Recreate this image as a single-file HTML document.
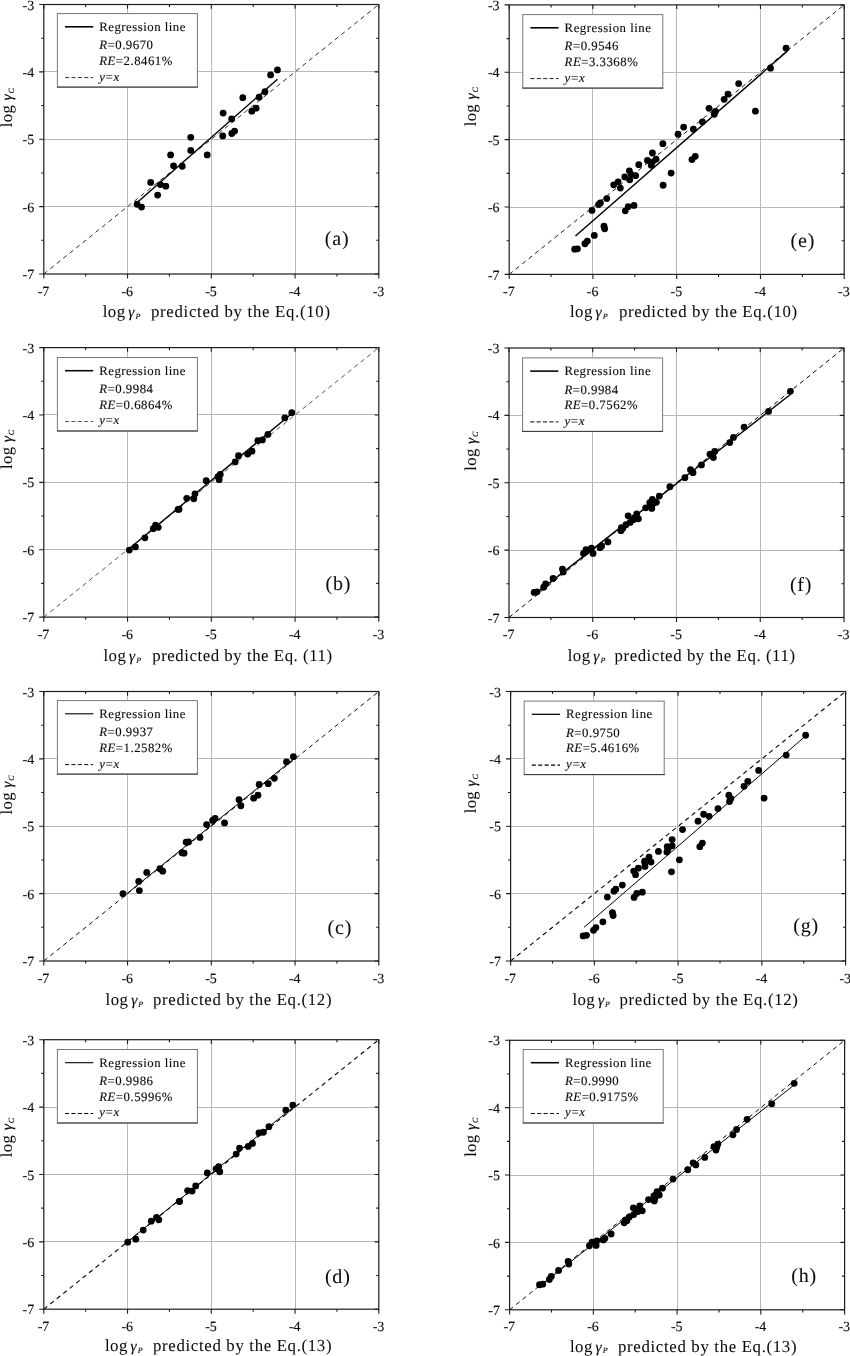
<!DOCTYPE html>
<html lang="en">
<head>
<meta charset="utf-8">
<title>Regression plots</title>
<style>
html,body{margin:0;padding:0;background:#fff;}
body{width:850px;height:1356px;overflow:hidden;}
svg{display:block;}
text{font-family:"Liberation Serif",serif;fill:#0a0a0a;stroke:#0a0a0a;stroke-width:0.12px;text-rendering:geometricPrecision;}
.tk{font-size:14px;}
.lg{font-size:12.8px;letter-spacing:0.5px;}
.it{font-style:italic;}
.pl{font-size:20px;letter-spacing:0.8px;stroke-width:0.04px;}
.al{font-size:16.8px;letter-spacing:0;stroke-width:0.04px;}
.gm{font-size:15.5px;font-style:italic;}
.sb{font-size:8px;font-style:italic;}
</style>
</head>
<body>
<svg width="850" height="1356" viewBox="0 0 850 1356">
<rect width="850" height="1356" fill="#fff"/>
<g>
<line x1="127.5" y1="4.5" x2="127.5" y2="274" stroke="#b8b8b8" stroke-width="1"/>
<line x1="43.8" y1="206.5" x2="378.8" y2="206.5" stroke="#b8b8b8" stroke-width="1"/>
<line x1="211.5" y1="4.5" x2="211.5" y2="274" stroke="#b8b8b8" stroke-width="1"/>
<line x1="43.8" y1="139.5" x2="378.8" y2="139.5" stroke="#b8b8b8" stroke-width="1"/>
<line x1="295.5" y1="4.5" x2="295.5" y2="274" stroke="#b8b8b8" stroke-width="1"/>
<line x1="43.8" y1="71.5" x2="378.8" y2="71.5" stroke="#b8b8b8" stroke-width="1"/>
<line x1="43.8" y1="274" x2="378.8" y2="4.5" stroke="#1a1a1a" stroke-width="0.9" stroke-dasharray="4.5 3.8"/>
<line x1="136.59" y1="202.92" x2="277.46" y2="79.29" stroke="#000" stroke-width="1.45"/>
<circle cx="141.54" cy="207.1" r="3.4"/>
<circle cx="137.1" cy="204.27" r="3.4"/>
<circle cx="157.62" cy="195.1" r="3.4"/>
<circle cx="165.82" cy="186.14" r="3.4"/>
<circle cx="160.38" cy="184.59" r="3.4"/>
<circle cx="150.66" cy="182.44" r="3.4"/>
<circle cx="173.53" cy="165.8" r="3.4"/>
<circle cx="182.24" cy="166.27" r="3.4"/>
<circle cx="170.6" cy="154.95" r="3.4"/>
<circle cx="207.2" cy="154.95" r="3.4"/>
<circle cx="190.78" cy="150.43" r="3.4"/>
<circle cx="190.78" cy="137.36" r="3.4"/>
<circle cx="222.77" cy="135.88" r="3.4"/>
<circle cx="231.82" cy="133.52" r="3.4"/>
<circle cx="234.58" cy="131.03" r="3.4"/>
<circle cx="231.65" cy="118.97" r="3.4"/>
<circle cx="223.11" cy="113.11" r="3.4"/>
<circle cx="251.83" cy="111.15" r="3.4"/>
<circle cx="256.11" cy="108.19" r="3.4"/>
<circle cx="242.79" cy="97.68" r="3.4"/>
<circle cx="259.12" cy="97.21" r="3.4"/>
<circle cx="264.98" cy="91.75" r="3.4"/>
<circle cx="270.6" cy="74.97" r="3.4"/>
<circle cx="277.46" cy="69.92" r="3.4"/>
<path d="M43.8 274v4.6M43.8 4.5v4.2M43.8 274h-4.6M378.8 274h-4.2M85.67 274v2.6M85.67 4.5v2.6M43.8 240.31h-2.6M378.8 240.31h-2.6M127.55 274v4.6M127.55 4.5v4.2M43.8 206.62h-4.6M378.8 206.62h-4.2M169.43 274v2.6M169.43 4.5v2.6M43.8 172.94h-2.6M378.8 172.94h-2.6M211.3 274v4.6M211.3 4.5v4.2M43.8 139.25h-4.6M378.8 139.25h-4.2M253.18 274v2.6M253.18 4.5v2.6M43.8 105.56h-2.6M378.8 105.56h-2.6M295.05 274v4.6M295.05 4.5v4.2M43.8 71.88h-4.6M378.8 71.88h-4.2M336.93 274v2.6M336.93 4.5v2.6M43.8 38.19h-2.6M378.8 38.19h-2.6M378.8 274v4.6M378.8 4.5v4.2M43.8 4.5h-4.6M378.8 4.5h-4.2" stroke="#1c1c1c" stroke-width="1.1" fill="none"/>
<rect x="43.8" y="4.5" width="335" height="269.5" fill="none" stroke="#1c1c1c" stroke-width="1.2"/>
<text class="tk" x="43.5" y="295.5" text-anchor="middle">-7</text>
<text class="tk" x="34.2" y="279.1" text-anchor="end">-7</text>
<text class="tk" x="127.25" y="295.5" text-anchor="middle">-6</text>
<text class="tk" x="34.2" y="211.72" text-anchor="end">-6</text>
<text class="tk" x="211" y="295.5" text-anchor="middle">-5</text>
<text class="tk" x="34.2" y="144.35" text-anchor="end">-5</text>
<text class="tk" x="294.75" y="295.5" text-anchor="middle">-4</text>
<text class="tk" x="34.2" y="76.97" text-anchor="end">-4</text>
<text class="tk" x="378.5" y="295.5" text-anchor="middle">-3</text>
<text class="tk" x="34.2" y="9.6" text-anchor="end">-3</text>
<rect x="57.4" y="13.6" width="140" height="73.5" fill="#fff" stroke="#777" stroke-width="1"/>
<line x1="56.9" y1="87.1" x2="197.9" y2="87.1" stroke="#3a3a3a" stroke-width="1"/>
<line x1="65" y1="26.8" x2="93.2" y2="26.8" stroke="#000" stroke-width="1.55"/>
<line x1="65" y1="77.6" x2="93.2" y2="77.6" stroke="#1a1a1a" stroke-width="0.9" stroke-dasharray="4.1 2.3"/>
<text class="lg" x="99.2" y="30.6">Regression line</text>
<text class="lg" x="99.2" y="49.4"><tspan class="it">R</tspan>=0.9670</text>
<text class="lg" x="99.2" y="64.9"><tspan class="it">RE</tspan>=2.8461%</text>
<text class="lg it" x="99.2" y="80.5" style="letter-spacing:0">y=x</text>
<text class="pl" x="324.8" y="245.3">(a)</text>
<text class="al" x="102.7" y="316.9" style="letter-spacing:0.45px">log</text>
<text class="gm" x="128.3" y="316.9">γ</text>
<text class="sb" x="135.4" y="318.7">P</text>
<text class="al" x="151" y="316.9" textLength="179" lengthAdjust="spacing">predicted by the Eq.(10)</text>
<g transform="translate(11.8 127) rotate(-90)"><text class="al" x="-0.2" y="0" style="letter-spacing:0.3px">log</text><text class="gm" x="26.6" y="0">γ</text><text class="sb" x="33.6" y="2.4">C</text></g>
</g>
<g>
<line x1="127.5" y1="347.6" x2="127.5" y2="617.1" stroke="#b8b8b8" stroke-width="1"/>
<line x1="43.8" y1="549.5" x2="378.8" y2="549.5" stroke="#b8b8b8" stroke-width="1"/>
<line x1="211.5" y1="347.6" x2="211.5" y2="617.1" stroke="#b8b8b8" stroke-width="1"/>
<line x1="43.8" y1="482.5" x2="378.8" y2="482.5" stroke="#b8b8b8" stroke-width="1"/>
<line x1="295.5" y1="347.6" x2="295.5" y2="617.1" stroke="#b8b8b8" stroke-width="1"/>
<line x1="43.8" y1="414.5" x2="378.8" y2="414.5" stroke="#b8b8b8" stroke-width="1"/>
<line x1="43.8" y1="617.1" x2="378.8" y2="347.6" stroke="#444" stroke-width="0.9" stroke-dasharray="4.5 3.8"/>
<line x1="128.81" y1="549.05" x2="292.12" y2="413.29" stroke="#000" stroke-width="1.45"/>
<circle cx="129.31" cy="550.06" r="3.4"/>
<circle cx="135.42" cy="546.96" r="3.4"/>
<circle cx="144.89" cy="537.87" r="3.4"/>
<circle cx="153.26" cy="528.7" r="3.4"/>
<circle cx="155.52" cy="525.07" r="3.4"/>
<circle cx="158.29" cy="527.36" r="3.4"/>
<circle cx="179.06" cy="509.17" r="3.4"/>
<circle cx="178.05" cy="509.43" r="3.4"/>
<circle cx="186.76" cy="498.32" r="3.4"/>
<circle cx="193.8" cy="498.79" r="3.4"/>
<circle cx="194.97" cy="493.87" r="3.4"/>
<circle cx="206.19" cy="480.73" r="3.4"/>
<circle cx="218" cy="476.62" r="3.4"/>
<circle cx="219.17" cy="479.66" r="3.4"/>
<circle cx="220.26" cy="474.47" r="3.4"/>
<circle cx="235.17" cy="461.94" r="3.4"/>
<circle cx="238.52" cy="455.74" r="3.4"/>
<circle cx="247.73" cy="454.05" r="3.4"/>
<circle cx="252" cy="451.16" r="3.4"/>
<circle cx="257.78" cy="440.58" r="3.4"/>
<circle cx="262.39" cy="439.97" r="3.4"/>
<circle cx="267.92" cy="434.38" r="3.4"/>
<circle cx="284.83" cy="417.94" r="3.4"/>
<circle cx="291.78" cy="412.68" r="3.4"/>
<path d="M43.8 617.1v4.6M43.8 347.6v4.2M43.8 617.1h-4.6M378.8 617.1h-4.2M85.67 617.1v2.6M85.67 347.6v2.6M43.8 583.41h-2.6M378.8 583.41h-2.6M127.55 617.1v4.6M127.55 347.6v4.2M43.8 549.73h-4.6M378.8 549.73h-4.2M169.43 617.1v2.6M169.43 347.6v2.6M43.8 516.04h-2.6M378.8 516.04h-2.6M211.3 617.1v4.6M211.3 347.6v4.2M43.8 482.35h-4.6M378.8 482.35h-4.2M253.18 617.1v2.6M253.18 347.6v2.6M43.8 448.66h-2.6M378.8 448.66h-2.6M295.05 617.1v4.6M295.05 347.6v4.2M43.8 414.98h-4.6M378.8 414.98h-4.2M336.93 617.1v2.6M336.93 347.6v2.6M43.8 381.29h-2.6M378.8 381.29h-2.6M378.8 617.1v4.6M378.8 347.6v4.2M43.8 347.6h-4.6M378.8 347.6h-4.2" stroke="#1c1c1c" stroke-width="1.1" fill="none"/>
<rect x="43.8" y="347.6" width="335" height="269.5" fill="none" stroke="#1c1c1c" stroke-width="1.2"/>
<text class="tk" x="43.5" y="638.6" text-anchor="middle">-7</text>
<text class="tk" x="34.2" y="622.2" text-anchor="end">-7</text>
<text class="tk" x="127.25" y="638.6" text-anchor="middle">-6</text>
<text class="tk" x="34.2" y="554.83" text-anchor="end">-6</text>
<text class="tk" x="211" y="638.6" text-anchor="middle">-5</text>
<text class="tk" x="34.2" y="487.45" text-anchor="end">-5</text>
<text class="tk" x="294.75" y="638.6" text-anchor="middle">-4</text>
<text class="tk" x="34.2" y="420.08" text-anchor="end">-4</text>
<text class="tk" x="378.5" y="638.6" text-anchor="middle">-3</text>
<text class="tk" x="34.2" y="352.7" text-anchor="end">-3</text>
<rect x="57.4" y="357.5" width="140" height="73.5" fill="#fff" stroke="#777" stroke-width="1"/>
<line x1="56.9" y1="431" x2="197.9" y2="431" stroke="#3a3a3a" stroke-width="1"/>
<line x1="65" y1="370.7" x2="93.2" y2="370.7" stroke="#000" stroke-width="1.55"/>
<line x1="65" y1="421.5" x2="93.2" y2="421.5" stroke="#444" stroke-width="0.9" stroke-dasharray="4.1 2.3"/>
<text class="lg" x="99.2" y="374.5">Regression line</text>
<text class="lg" x="99.2" y="393.3"><tspan class="it">R</tspan>=0.9984</text>
<text class="lg" x="99.2" y="408.8"><tspan class="it">RE</tspan>=0.6864%</text>
<text class="lg it" x="99.2" y="424.4" style="letter-spacing:0">y=x</text>
<text class="pl" x="325.6" y="590.4">(b)</text>
<text class="al" x="103.5" y="661.1" style="letter-spacing:0.45px">log</text>
<text class="gm" x="129.1" y="661.1">γ</text>
<text class="sb" x="136.2" y="662.9">P</text>
<text class="al" x="152.2" y="661.1" textLength="179.9" lengthAdjust="spacing">predicted by the Eq. (11)</text>
<g transform="translate(11.8 468.8) rotate(-90)"><text class="al" x="-0.2" y="0" style="letter-spacing:0.3px">log</text><text class="gm" x="26.6" y="0">γ</text><text class="sb" x="33.6" y="2.4">C</text></g>
</g>
<g>
<line x1="127.5" y1="691.5" x2="127.5" y2="961" stroke="#b8b8b8" stroke-width="1"/>
<line x1="43.8" y1="893.5" x2="378.8" y2="893.5" stroke="#b8b8b8" stroke-width="1"/>
<line x1="211.5" y1="691.5" x2="211.5" y2="961" stroke="#b8b8b8" stroke-width="1"/>
<line x1="43.8" y1="826.5" x2="378.8" y2="826.5" stroke="#b8b8b8" stroke-width="1"/>
<line x1="295.5" y1="691.5" x2="295.5" y2="961" stroke="#b8b8b8" stroke-width="1"/>
<line x1="43.8" y1="758.5" x2="378.8" y2="758.5" stroke="#b8b8b8" stroke-width="1"/>
<line x1="43.8" y1="961" x2="378.8" y2="691.5" stroke="#111" stroke-width="1.0" stroke-dasharray="4.5 3.8"/>
<line x1="122.94" y1="896.79" x2="293.38" y2="759.14" stroke="#000" stroke-width="1.0"/>
<circle cx="122.94" cy="893.76" r="3.4"/>
<circle cx="139.36" cy="890.53" r="3.4"/>
<circle cx="138.69" cy="881.43" r="3.4"/>
<circle cx="146.73" cy="872.4" r="3.4"/>
<circle cx="159.96" cy="868.76" r="3.4"/>
<circle cx="162.72" cy="871.19" r="3.4"/>
<circle cx="181.99" cy="852.73" r="3.4"/>
<circle cx="184.08" cy="853.2" r="3.4"/>
<circle cx="186.18" cy="842.22" r="3.4"/>
<circle cx="188.52" cy="841.95" r="3.4"/>
<circle cx="199.99" cy="837.43" r="3.4"/>
<circle cx="206.61" cy="824.57" r="3.4"/>
<circle cx="212.64" cy="820.46" r="3.4"/>
<circle cx="215.07" cy="818.37" r="3.4"/>
<circle cx="224.53" cy="822.88" r="3.4"/>
<circle cx="240.86" cy="805.77" r="3.4"/>
<circle cx="239.02" cy="799.64" r="3.4"/>
<circle cx="253.68" cy="798.15" r="3.4"/>
<circle cx="257.95" cy="795.19" r="3.4"/>
<circle cx="259.12" cy="784.48" r="3.4"/>
<circle cx="268.25" cy="783.67" r="3.4"/>
<circle cx="274.36" cy="778.28" r="3.4"/>
<circle cx="286.51" cy="761.84" r="3.4"/>
<circle cx="293.38" cy="756.72" r="3.4"/>
<path d="M43.8 961v4.6M43.8 691.5v4.2M43.8 961h-4.6M378.8 961h-4.2M85.67 961v2.6M85.67 691.5v2.6M43.8 927.31h-2.6M378.8 927.31h-2.6M127.55 961v4.6M127.55 691.5v4.2M43.8 893.62h-4.6M378.8 893.62h-4.2M169.43 961v2.6M169.43 691.5v2.6M43.8 859.94h-2.6M378.8 859.94h-2.6M211.3 961v4.6M211.3 691.5v4.2M43.8 826.25h-4.6M378.8 826.25h-4.2M253.18 961v2.6M253.18 691.5v2.6M43.8 792.56h-2.6M378.8 792.56h-2.6M295.05 961v4.6M295.05 691.5v4.2M43.8 758.88h-4.6M378.8 758.88h-4.2M336.93 961v2.6M336.93 691.5v2.6M43.8 725.19h-2.6M378.8 725.19h-2.6M378.8 961v4.6M378.8 691.5v4.2M43.8 691.5h-4.6M378.8 691.5h-4.2" stroke="#1c1c1c" stroke-width="1.1" fill="none"/>
<rect x="43.8" y="691.5" width="335" height="269.5" fill="none" stroke="#1c1c1c" stroke-width="1.2"/>
<text class="tk" x="43.5" y="982.5" text-anchor="middle">-7</text>
<text class="tk" x="34.2" y="966.1" text-anchor="end">-7</text>
<text class="tk" x="127.25" y="982.5" text-anchor="middle">-6</text>
<text class="tk" x="34.2" y="898.73" text-anchor="end">-6</text>
<text class="tk" x="211" y="982.5" text-anchor="middle">-5</text>
<text class="tk" x="34.2" y="831.35" text-anchor="end">-5</text>
<text class="tk" x="294.75" y="982.5" text-anchor="middle">-4</text>
<text class="tk" x="34.2" y="763.98" text-anchor="end">-4</text>
<text class="tk" x="378.5" y="982.5" text-anchor="middle">-3</text>
<text class="tk" x="34.2" y="696.6" text-anchor="end">-3</text>
<rect x="57.4" y="700.6" width="140" height="73.5" fill="#fff" stroke="#777" stroke-width="1"/>
<line x1="56.9" y1="774.1" x2="197.9" y2="774.1" stroke="#3a3a3a" stroke-width="1"/>
<line x1="65" y1="713.8" x2="93.2" y2="713.8" stroke="#000" stroke-width="1.1"/>
<line x1="65" y1="764.6" x2="93.2" y2="764.6" stroke="#111" stroke-width="1.0" stroke-dasharray="4.1 2.3"/>
<text class="lg" x="99.2" y="717.6">Regression line</text>
<text class="lg" x="99.2" y="736.4"><tspan class="it">R</tspan>=0.9937</text>
<text class="lg" x="99.2" y="751.9"><tspan class="it">RE</tspan>=1.2582%</text>
<text class="lg it" x="99.2" y="767.5" style="letter-spacing:0">y=x</text>
<text class="pl" x="327.5" y="934">(c)</text>
<text class="al" x="105.6" y="1005.2" style="letter-spacing:0.45px">log</text>
<text class="gm" x="131.2" y="1005.2">γ</text>
<text class="sb" x="138.3" y="1007">P</text>
<text class="al" x="153" y="1005.2" textLength="178.5" lengthAdjust="spacing">predicted by the Eq.(12)</text>
<g transform="translate(11.8 814.3) rotate(-90)"><text class="al" x="-0.2" y="0" style="letter-spacing:0.3px">log</text><text class="gm" x="26.6" y="0">γ</text><text class="sb" x="33.6" y="2.4">C</text></g>
</g>
<g>
<line x1="127.5" y1="1039.7" x2="127.5" y2="1309.2" stroke="#b8b8b8" stroke-width="1"/>
<line x1="43.8" y1="1241.5" x2="378.8" y2="1241.5" stroke="#b8b8b8" stroke-width="1"/>
<line x1="211.5" y1="1039.7" x2="211.5" y2="1309.2" stroke="#b8b8b8" stroke-width="1"/>
<line x1="43.8" y1="1174.5" x2="378.8" y2="1174.5" stroke="#b8b8b8" stroke-width="1"/>
<line x1="295.5" y1="1039.7" x2="295.5" y2="1309.2" stroke="#b8b8b8" stroke-width="1"/>
<line x1="43.8" y1="1107.5" x2="378.8" y2="1107.5" stroke="#b8b8b8" stroke-width="1"/>
<line x1="43.8" y1="1309.2" x2="378.8" y2="1039.7" stroke="#000" stroke-width="1.1" stroke-dasharray="4.5 3.8"/>
<line x1="127.55" y1="1241.83" x2="292.79" y2="1107.41" stroke="#000" stroke-width="1.0"/>
<circle cx="127.72" cy="1242.16" r="3.4"/>
<circle cx="135.76" cy="1239.2" r="3.4"/>
<circle cx="143.25" cy="1230.1" r="3.4"/>
<circle cx="151.25" cy="1221.21" r="3.4"/>
<circle cx="156.53" cy="1217.3" r="3.4"/>
<circle cx="158.79" cy="1219.73" r="3.4"/>
<circle cx="179.22" cy="1201.33" r="3.4"/>
<circle cx="179.64" cy="1201.53" r="3.4"/>
<circle cx="187.6" cy="1190.62" r="3.4"/>
<circle cx="192.12" cy="1191.09" r="3.4"/>
<circle cx="195.72" cy="1185.97" r="3.4"/>
<circle cx="207.28" cy="1172.97" r="3.4"/>
<circle cx="216.07" cy="1168.86" r="3.4"/>
<circle cx="218.67" cy="1166.57" r="3.4"/>
<circle cx="219.76" cy="1171.76" r="3.4"/>
<circle cx="236.17" cy="1154.1" r="3.4"/>
<circle cx="239.52" cy="1148.11" r="3.4"/>
<circle cx="248.23" cy="1146.42" r="3.4"/>
<circle cx="252.5" cy="1143.46" r="3.4"/>
<circle cx="258.95" cy="1132.95" r="3.4"/>
<circle cx="263.39" cy="1132.27" r="3.4"/>
<circle cx="268.92" cy="1126.68" r="3.4"/>
<circle cx="285.84" cy="1110.17" r="3.4"/>
<circle cx="292.79" cy="1105.12" r="3.4"/>
<path d="M43.8 1309.2v4.6M43.8 1039.7v4.2M43.8 1309.2h-4.6M378.8 1309.2h-4.2M85.67 1309.2v2.6M85.67 1039.7v2.6M43.8 1275.51h-2.6M378.8 1275.51h-2.6M127.55 1309.2v4.6M127.55 1039.7v4.2M43.8 1241.83h-4.6M378.8 1241.83h-4.2M169.43 1309.2v2.6M169.43 1039.7v2.6M43.8 1208.14h-2.6M378.8 1208.14h-2.6M211.3 1309.2v4.6M211.3 1039.7v4.2M43.8 1174.45h-4.6M378.8 1174.45h-4.2M253.18 1309.2v2.6M253.18 1039.7v2.6M43.8 1140.76h-2.6M378.8 1140.76h-2.6M295.05 1309.2v4.6M295.05 1039.7v4.2M43.8 1107.08h-4.6M378.8 1107.08h-4.2M336.93 1309.2v2.6M336.93 1039.7v2.6M43.8 1073.39h-2.6M378.8 1073.39h-2.6M378.8 1309.2v4.6M378.8 1039.7v4.2M43.8 1039.7h-4.6M378.8 1039.7h-4.2" stroke="#1c1c1c" stroke-width="1.1" fill="none"/>
<rect x="43.8" y="1039.7" width="335" height="269.5" fill="none" stroke="#1c1c1c" stroke-width="1.2"/>
<text class="tk" x="43.5" y="1330.7" text-anchor="middle">-7</text>
<text class="tk" x="34.2" y="1314.3" text-anchor="end">-7</text>
<text class="tk" x="127.25" y="1330.7" text-anchor="middle">-6</text>
<text class="tk" x="34.2" y="1246.92" text-anchor="end">-6</text>
<text class="tk" x="211" y="1330.7" text-anchor="middle">-5</text>
<text class="tk" x="34.2" y="1179.55" text-anchor="end">-5</text>
<text class="tk" x="294.75" y="1330.7" text-anchor="middle">-4</text>
<text class="tk" x="34.2" y="1112.17" text-anchor="end">-4</text>
<text class="tk" x="378.5" y="1330.7" text-anchor="middle">-3</text>
<text class="tk" x="34.2" y="1044.8" text-anchor="end">-3</text>
<rect x="57.4" y="1049.5" width="140" height="73.5" fill="#fff" stroke="#777" stroke-width="1"/>
<line x1="56.9" y1="1123" x2="197.9" y2="1123" stroke="#3a3a3a" stroke-width="1"/>
<line x1="65" y1="1062.7" x2="93.2" y2="1062.7" stroke="#000" stroke-width="1.1"/>
<line x1="65" y1="1113.5" x2="93.2" y2="1113.5" stroke="#000" stroke-width="1.1" stroke-dasharray="4.1 2.3"/>
<text class="lg" x="99.2" y="1066.5">Regression line</text>
<text class="lg" x="99.2" y="1085.3"><tspan class="it">R</tspan>=0.9986</text>
<text class="lg" x="99.2" y="1100.8"><tspan class="it">RE</tspan>=0.5996%</text>
<text class="lg it" x="99.2" y="1116.4" style="letter-spacing:0">y=x</text>
<text class="pl" x="324.9" y="1283">(d)</text>
<text class="al" x="105" y="1351" style="letter-spacing:0.45px">log</text>
<text class="gm" x="130.6" y="1351">γ</text>
<text class="sb" x="137.7" y="1352.8">P</text>
<text class="al" x="153" y="1351" textLength="178.5" lengthAdjust="spacing">predicted by the Eq.(13)</text>
<g transform="translate(11.8 1156.95) rotate(-90)"><text class="al" x="-0.2" y="0" style="letter-spacing:0.3px">log</text><text class="gm" x="26.6" y="0">γ</text><text class="sb" x="33.6" y="2.4">C</text></g>
</g>
<g>
<line x1="592.5" y1="4.9" x2="592.5" y2="274.4" stroke="#b8b8b8" stroke-width="1"/>
<line x1="509.2" y1="207.5" x2="844.2" y2="207.5" stroke="#b8b8b8" stroke-width="1"/>
<line x1="676.5" y1="4.9" x2="676.5" y2="274.4" stroke="#b8b8b8" stroke-width="1"/>
<line x1="509.2" y1="139.5" x2="844.2" y2="139.5" stroke="#b8b8b8" stroke-width="1"/>
<line x1="760.5" y1="4.9" x2="760.5" y2="274.4" stroke="#b8b8b8" stroke-width="1"/>
<line x1="509.2" y1="72.5" x2="844.2" y2="72.5" stroke="#b8b8b8" stroke-width="1"/>
<line x1="509.2" y1="274.4" x2="844.2" y2="4.9" stroke="#111" stroke-width="0.95" stroke-dasharray="4.5 3.8"/>
<line x1="575.45" y1="236" x2="787.25" y2="51.12" stroke="#000" stroke-width="1.45"/>
<circle cx="574.69" cy="249.2" r="3.4"/>
<circle cx="577.46" cy="248.86" r="3.4"/>
<circle cx="584.91" cy="243.74" r="3.4"/>
<circle cx="587.34" cy="241.12" r="3.4"/>
<circle cx="594.29" cy="235.39" r="3.4"/>
<circle cx="604" cy="226.16" r="3.4"/>
<circle cx="604.67" cy="228.79" r="3.4"/>
<circle cx="591.95" cy="210.46" r="3.4"/>
<circle cx="598.56" cy="204.53" r="3.4"/>
<circle cx="600.4" cy="202.92" r="3.4"/>
<circle cx="606.77" cy="198.6" r="3.4"/>
<circle cx="625.28" cy="210.8" r="3.4"/>
<circle cx="628.21" cy="206.69" r="3.4"/>
<circle cx="633.99" cy="205.41" r="3.4"/>
<circle cx="613.72" cy="184.79" r="3.4"/>
<circle cx="618.16" cy="181.83" r="3.4"/>
<circle cx="620.34" cy="188.09" r="3.4"/>
<circle cx="624.77" cy="176.91" r="3.4"/>
<circle cx="629.38" cy="170.78" r="3.4"/>
<circle cx="629.72" cy="179.87" r="3.4"/>
<circle cx="631.31" cy="174.55" r="3.4"/>
<circle cx="635.66" cy="175.7" r="3.4"/>
<circle cx="638.76" cy="164.71" r="3.4"/>
<circle cx="647.47" cy="160.4" r="3.4"/>
<circle cx="651.24" cy="165.32" r="3.4"/>
<circle cx="652.41" cy="162.09" r="3.4"/>
<circle cx="656.1" cy="159.26" r="3.4"/>
<circle cx="652.41" cy="152.99" r="3.4"/>
<circle cx="663.13" cy="185.26" r="3.4"/>
<circle cx="671.09" cy="173.07" r="3.4"/>
<circle cx="691.94" cy="159.59" r="3.4"/>
<circle cx="695.29" cy="156.29" r="3.4"/>
<circle cx="770.5" cy="68.17" r="3.4"/>
<circle cx="738.67" cy="83.59" r="3.4"/>
<circle cx="727.95" cy="94.04" r="3.4"/>
<circle cx="724.19" cy="99.29" r="3.4"/>
<circle cx="755.42" cy="111.15" r="3.4"/>
<circle cx="709.03" cy="108.32" r="3.4"/>
<circle cx="715.39" cy="111.49" r="3.4"/>
<circle cx="714.3" cy="114.25" r="3.4"/>
<circle cx="702.41" cy="121.86" r="3.4"/>
<circle cx="693.37" cy="129.27" r="3.4"/>
<circle cx="683.65" cy="127.12" r="3.4"/>
<circle cx="678.04" cy="134.19" r="3.4"/>
<circle cx="662.88" cy="143.69" r="3.4"/>
<circle cx="786.08" cy="48.15" r="3.4"/>
<path d="M509.2 274.4v4.6M509.2 4.9v4.2M509.2 274.4h-4.6M844.2 274.4h-4.2M551.08 274.4v2.6M551.08 4.9v2.6M509.2 240.71h-2.6M844.2 240.71h-2.6M592.95 274.4v4.6M592.95 4.9v4.2M509.2 207.03h-4.6M844.2 207.03h-4.2M634.83 274.4v2.6M634.83 4.9v2.6M509.2 173.34h-2.6M844.2 173.34h-2.6M676.7 274.4v4.6M676.7 4.9v4.2M509.2 139.65h-4.6M844.2 139.65h-4.2M718.58 274.4v2.6M718.58 4.9v2.6M509.2 105.96h-2.6M844.2 105.96h-2.6M760.45 274.4v4.6M760.45 4.9v4.2M509.2 72.28h-4.6M844.2 72.28h-4.2M802.33 274.4v2.6M802.33 4.9v2.6M509.2 38.59h-2.6M844.2 38.59h-2.6M844.2 274.4v4.6M844.2 4.9v4.2M509.2 4.9h-4.6M844.2 4.9h-4.2" stroke="#1c1c1c" stroke-width="1.1" fill="none"/>
<rect x="509.2" y="4.9" width="335" height="269.5" fill="none" stroke="#1c1c1c" stroke-width="1.2"/>
<text class="tk" x="508.9" y="295.9" text-anchor="middle">-7</text>
<text class="tk" x="499.6" y="279.5" text-anchor="end">-7</text>
<text class="tk" x="592.65" y="295.9" text-anchor="middle">-6</text>
<text class="tk" x="499.6" y="212.12" text-anchor="end">-6</text>
<text class="tk" x="676.4" y="295.9" text-anchor="middle">-5</text>
<text class="tk" x="499.6" y="144.75" text-anchor="end">-5</text>
<text class="tk" x="760.15" y="295.9" text-anchor="middle">-4</text>
<text class="tk" x="499.6" y="77.38" text-anchor="end">-4</text>
<text class="tk" x="843.9" y="295.9" text-anchor="middle">-3</text>
<text class="tk" x="499.6" y="10" text-anchor="end">-3</text>
<rect x="522.8" y="14.6" width="140" height="73.5" fill="#fff" stroke="#777" stroke-width="1"/>
<line x1="522.3" y1="88.1" x2="663.3" y2="88.1" stroke="#3a3a3a" stroke-width="1"/>
<line x1="530.4" y1="27.8" x2="558.6" y2="27.8" stroke="#000" stroke-width="1.55"/>
<line x1="530.4" y1="78.6" x2="558.6" y2="78.6" stroke="#111" stroke-width="0.95" stroke-dasharray="4.1 2.3"/>
<text class="lg" x="564.6" y="31.6">Regression line</text>
<text class="lg" x="564.6" y="50.4"><tspan class="it">R</tspan>=0.9546</text>
<text class="lg" x="564.6" y="65.9"><tspan class="it">RE</tspan>=3.3368%</text>
<text class="lg it" x="564.6" y="81.5" style="letter-spacing:0">y=x</text>
<text class="pl" x="790.6" y="246.7">(e)</text>
<text class="al" x="570" y="316.9" style="letter-spacing:0.45px">log</text>
<text class="gm" x="595.6" y="316.9">γ</text>
<text class="sb" x="602.7" y="318.7">P</text>
<text class="al" x="618.9" y="316.9" textLength="178.2" lengthAdjust="spacing">predicted by the Eq.(10)</text>
<g transform="translate(475.5 126.1) rotate(-90)"><text class="al" x="-0.2" y="0" style="letter-spacing:0.3px">log</text><text class="gm" x="26.6" y="0">γ</text><text class="sb" x="33.6" y="2.4">C</text></g>
</g>
<g>
<line x1="592.5" y1="348" x2="592.5" y2="617.5" stroke="#b8b8b8" stroke-width="1"/>
<line x1="509" y1="550.5" x2="844" y2="550.5" stroke="#b8b8b8" stroke-width="1"/>
<line x1="676.5" y1="348" x2="676.5" y2="617.5" stroke="#b8b8b8" stroke-width="1"/>
<line x1="509" y1="482.5" x2="844" y2="482.5" stroke="#b8b8b8" stroke-width="1"/>
<line x1="760.5" y1="348" x2="760.5" y2="617.5" stroke="#b8b8b8" stroke-width="1"/>
<line x1="509" y1="415.5" x2="844" y2="415.5" stroke="#b8b8b8" stroke-width="1"/>
<line x1="509" y1="617.5" x2="844" y2="348" stroke="#000" stroke-width="1.0" stroke-dasharray="4.5 3.8"/>
<line x1="534.12" y1="594.93" x2="790.4" y2="394.49" stroke="#000" stroke-width="1.45"/>
<circle cx="534.12" cy="592.44" r="3.4"/>
<circle cx="537.06" cy="591.83" r="3.4"/>
<circle cx="543.67" cy="587.18" r="3.4"/>
<circle cx="545.6" cy="583.88" r="3.4"/>
<circle cx="553.05" cy="578.49" r="3.4"/>
<circle cx="562.43" cy="569.06" r="3.4"/>
<circle cx="563.27" cy="571.89" r="3.4"/>
<circle cx="583.54" cy="553.43" r="3.4"/>
<circle cx="585.97" cy="549.65" r="3.4"/>
<circle cx="591.41" cy="548.17" r="3.4"/>
<circle cx="593.08" cy="553.43" r="3.4"/>
<circle cx="600.04" cy="547.63" r="3.4"/>
<circle cx="601.63" cy="546.02" r="3.4"/>
<circle cx="607.91" cy="541.91" r="3.4"/>
<circle cx="620.89" cy="530.65" r="3.4"/>
<circle cx="621.39" cy="527.55" r="3.4"/>
<circle cx="626" cy="524.72" r="3.4"/>
<circle cx="630.19" cy="522.43" r="3.4"/>
<circle cx="628.18" cy="515.83" r="3.4"/>
<circle cx="633.45" cy="519.67" r="3.4"/>
<circle cx="636.72" cy="513.88" r="3.4"/>
<circle cx="638.39" cy="518.8" r="3.4"/>
<circle cx="622.9" cy="528.36" r="3.4"/>
<circle cx="634.62" cy="517.65" r="3.4"/>
<circle cx="645.68" cy="507.81" r="3.4"/>
<circle cx="651.79" cy="508.42" r="3.4"/>
<circle cx="651.38" cy="505.19" r="3.4"/>
<circle cx="653.05" cy="503.5" r="3.4"/>
<circle cx="649.78" cy="502.69" r="3.4"/>
<circle cx="656.4" cy="502.36" r="3.4"/>
<circle cx="652.3" cy="499.39" r="3.4"/>
<circle cx="659.33" cy="496.09" r="3.4"/>
<circle cx="669.88" cy="486.73" r="3.4"/>
<circle cx="684.88" cy="477.63" r="3.4"/>
<circle cx="693" cy="472.71" r="3.4"/>
<circle cx="690.49" cy="469.75" r="3.4"/>
<circle cx="701.46" cy="464.9" r="3.4"/>
<circle cx="713.35" cy="457.55" r="3.4"/>
<circle cx="711.34" cy="454.59" r="3.4"/>
<circle cx="710" cy="454.25" r="3.4"/>
<circle cx="714.69" cy="451.49" r="3.4"/>
<circle cx="729.76" cy="442.53" r="3.4"/>
<circle cx="733.45" cy="437.47" r="3.4"/>
<circle cx="744.09" cy="427.1" r="3.4"/>
<circle cx="768.54" cy="411.47" r="3.4"/>
<circle cx="790.4" cy="391.32" r="3.4"/>
<path d="M509 617.5v4.6M509 348v4.2M509 617.5h-4.6M844 617.5h-4.2M550.88 617.5v2.6M550.88 348v2.6M509 583.81h-2.6M844 583.81h-2.6M592.75 617.5v4.6M592.75 348v4.2M509 550.12h-4.6M844 550.12h-4.2M634.62 617.5v2.6M634.62 348v2.6M509 516.44h-2.6M844 516.44h-2.6M676.5 617.5v4.6M676.5 348v4.2M509 482.75h-4.6M844 482.75h-4.2M718.38 617.5v2.6M718.38 348v2.6M509 449.06h-2.6M844 449.06h-2.6M760.25 617.5v4.6M760.25 348v4.2M509 415.38h-4.6M844 415.38h-4.2M802.12 617.5v2.6M802.12 348v2.6M509 381.69h-2.6M844 381.69h-2.6M844 617.5v4.6M844 348v4.2M509 348h-4.6M844 348h-4.2" stroke="#1c1c1c" stroke-width="1.1" fill="none"/>
<rect x="509" y="348" width="335" height="269.5" fill="none" stroke="#1c1c1c" stroke-width="1.2"/>
<text class="tk" x="508.7" y="639" text-anchor="middle">-7</text>
<text class="tk" x="499.4" y="622.6" text-anchor="end">-7</text>
<text class="tk" x="592.45" y="639" text-anchor="middle">-6</text>
<text class="tk" x="499.4" y="555.23" text-anchor="end">-6</text>
<text class="tk" x="676.2" y="639" text-anchor="middle">-5</text>
<text class="tk" x="499.4" y="487.85" text-anchor="end">-5</text>
<text class="tk" x="759.95" y="639" text-anchor="middle">-4</text>
<text class="tk" x="499.4" y="420.48" text-anchor="end">-4</text>
<text class="tk" x="843.7" y="639" text-anchor="middle">-3</text>
<text class="tk" x="499.4" y="353.1" text-anchor="end">-3</text>
<rect x="522.6" y="357.9" width="140" height="73.5" fill="#fff" stroke="#777" stroke-width="1"/>
<line x1="522.1" y1="431.4" x2="663.1" y2="431.4" stroke="#3a3a3a" stroke-width="1"/>
<line x1="530.2" y1="371.1" x2="558.4" y2="371.1" stroke="#000" stroke-width="1.55"/>
<line x1="530.2" y1="421.9" x2="558.4" y2="421.9" stroke="#000" stroke-width="1.0" stroke-dasharray="4.1 2.3"/>
<text class="lg" x="564.4" y="374.9">Regression line</text>
<text class="lg" x="564.4" y="393.7"><tspan class="it">R</tspan>=0.9984</text>
<text class="lg" x="564.4" y="409.2"><tspan class="it">RE</tspan>=0.7562%</text>
<text class="lg it" x="564.4" y="424.8" style="letter-spacing:0">y=x</text>
<text class="pl" x="789.9" y="590.9">(f)</text>
<text class="al" x="567.7" y="661.2" style="letter-spacing:0.45px">log</text>
<text class="gm" x="593.3" y="661.2">γ</text>
<text class="sb" x="600.4" y="663">P</text>
<text class="al" x="614.5" y="661.2" textLength="180.5" lengthAdjust="spacing">predicted by the Eq. (11)</text>
<g transform="translate(475.5 470.55) rotate(-90)"><text class="al" x="-0.2" y="0" style="letter-spacing:0.3px">log</text><text class="gm" x="26.6" y="0">γ</text><text class="sb" x="33.6" y="2.4">C</text></g>
</g>
<g>
<line x1="593.5" y1="691.5" x2="593.5" y2="961" stroke="#b8b8b8" stroke-width="1"/>
<line x1="510.6" y1="893.5" x2="845.6" y2="893.5" stroke="#b8b8b8" stroke-width="1"/>
<line x1="677.5" y1="691.5" x2="677.5" y2="961" stroke="#b8b8b8" stroke-width="1"/>
<line x1="510.6" y1="826.5" x2="845.6" y2="826.5" stroke="#b8b8b8" stroke-width="1"/>
<line x1="761.5" y1="691.5" x2="761.5" y2="961" stroke="#b8b8b8" stroke-width="1"/>
<line x1="510.6" y1="758.5" x2="845.6" y2="758.5" stroke="#b8b8b8" stroke-width="1"/>
<line x1="510.6" y1="961" x2="845.6" y2="691.5" stroke="#000" stroke-width="1.1" stroke-dasharray="4.5 3.8"/>
<line x1="583.97" y1="927.38" x2="805.65" y2="735.97" stroke="#000" stroke-width="1.0"/>
<circle cx="583.13" cy="935.94" r="3.4"/>
<circle cx="586.48" cy="935.33" r="3.4"/>
<circle cx="593.51" cy="930.34" r="3.4"/>
<circle cx="595.86" cy="927.58" r="3.4"/>
<circle cx="602.89" cy="921.79" r="3.4"/>
<circle cx="612.44" cy="912.76" r="3.4"/>
<circle cx="613.11" cy="915.52" r="3.4"/>
<circle cx="607.33" cy="897.06" r="3.4"/>
<circle cx="613.95" cy="891.13" r="3.4"/>
<circle cx="615.79" cy="889.18" r="3.4"/>
<circle cx="622.32" cy="885.07" r="3.4"/>
<circle cx="634.05" cy="897.4" r="3.4"/>
<circle cx="636.73" cy="893.49" r="3.4"/>
<circle cx="642.34" cy="892.14" r="3.4"/>
<circle cx="635.56" cy="874.69" r="3.4"/>
<circle cx="633.71" cy="871.05" r="3.4"/>
<circle cx="638.32" cy="868.22" r="3.4"/>
<circle cx="644.94" cy="866.47" r="3.4"/>
<circle cx="644.94" cy="863.17" r="3.4"/>
<circle cx="649.04" cy="857.04" r="3.4"/>
<circle cx="651.05" cy="862.03" r="3.4"/>
<circle cx="644.6" cy="861.15" r="3.4"/>
<circle cx="658.42" cy="851.45" r="3.4"/>
<circle cx="666.88" cy="852.12" r="3.4"/>
<circle cx="667.97" cy="849.16" r="3.4"/>
<circle cx="667.21" cy="846.66" r="3.4"/>
<circle cx="672.15" cy="845.86" r="3.4"/>
<circle cx="672.15" cy="839.59" r="3.4"/>
<circle cx="671.48" cy="871.86" r="3.4"/>
<circle cx="679.36" cy="859.87" r="3.4"/>
<circle cx="699.79" cy="846.66" r="3.4"/>
<circle cx="702.39" cy="843.09" r="3.4"/>
<circle cx="786.22" cy="755.1" r="3.4"/>
<circle cx="758.67" cy="770.4" r="3.4"/>
<circle cx="747.78" cy="781.31" r="3.4"/>
<circle cx="744.01" cy="786.36" r="3.4"/>
<circle cx="764.11" cy="798.09" r="3.4"/>
<circle cx="728.85" cy="795.26" r="3.4"/>
<circle cx="730.86" cy="798.56" r="3.4"/>
<circle cx="729.52" cy="801.52" r="3.4"/>
<circle cx="717.97" cy="808.6" r="3.4"/>
<circle cx="709.09" cy="816.35" r="3.4"/>
<circle cx="703.64" cy="814.26" r="3.4"/>
<circle cx="698.03" cy="821.13" r="3.4"/>
<circle cx="682.54" cy="829.62" r="3.4"/>
<circle cx="805.65" cy="735.23" r="3.4"/>
<path d="M510.6 961v4.6M510.6 691.5v4.2M510.6 961h-4.6M845.6 961h-4.2M552.48 961v2.6M552.48 691.5v2.6M510.6 927.31h-2.6M845.6 927.31h-2.6M594.35 961v4.6M594.35 691.5v4.2M510.6 893.62h-4.6M845.6 893.62h-4.2M636.23 961v2.6M636.23 691.5v2.6M510.6 859.94h-2.6M845.6 859.94h-2.6M678.1 961v4.6M678.1 691.5v4.2M510.6 826.25h-4.6M845.6 826.25h-4.2M719.98 961v2.6M719.98 691.5v2.6M510.6 792.56h-2.6M845.6 792.56h-2.6M761.85 961v4.6M761.85 691.5v4.2M510.6 758.88h-4.6M845.6 758.88h-4.2M803.73 961v2.6M803.73 691.5v2.6M510.6 725.19h-2.6M845.6 725.19h-2.6M845.6 961v4.6M845.6 691.5v4.2M510.6 691.5h-4.6M845.6 691.5h-4.2" stroke="#1c1c1c" stroke-width="1.1" fill="none"/>
<rect x="510.6" y="691.5" width="335" height="269.5" fill="none" stroke="#1c1c1c" stroke-width="1.2"/>
<text class="tk" x="510.3" y="982.5" text-anchor="middle">-7</text>
<text class="tk" x="501" y="966.1" text-anchor="end">-7</text>
<text class="tk" x="594.05" y="982.5" text-anchor="middle">-6</text>
<text class="tk" x="501" y="898.73" text-anchor="end">-6</text>
<text class="tk" x="677.8" y="982.5" text-anchor="middle">-5</text>
<text class="tk" x="501" y="831.35" text-anchor="end">-5</text>
<text class="tk" x="761.55" y="982.5" text-anchor="middle">-4</text>
<text class="tk" x="501" y="763.98" text-anchor="end">-4</text>
<text class="tk" x="845.3" y="982.5" text-anchor="middle">-3</text>
<text class="tk" x="501" y="696.6" text-anchor="end">-3</text>
<rect x="524.2" y="701.1" width="140" height="73.5" fill="#fff" stroke="#777" stroke-width="1"/>
<line x1="523.7" y1="774.6" x2="664.7" y2="774.6" stroke="#3a3a3a" stroke-width="1"/>
<line x1="531.8" y1="714.3" x2="560" y2="714.3" stroke="#000" stroke-width="1.25"/>
<line x1="531.8" y1="765.1" x2="560" y2="765.1" stroke="#000" stroke-width="1.1" stroke-dasharray="4.1 2.3"/>
<text class="lg" x="566" y="718.1">Regression line</text>
<text class="lg" x="566" y="736.9"><tspan class="it">R</tspan>=0.9750</text>
<text class="lg" x="566" y="752.4"><tspan class="it">RE</tspan>=5.4616%</text>
<text class="lg it" x="566" y="768" style="letter-spacing:0">y=x</text>
<text class="pl" x="793.2" y="932.2">(g)</text>
<text class="al" x="572.4" y="1005" style="letter-spacing:0.45px">log</text>
<text class="gm" x="598" y="1005">γ</text>
<text class="sb" x="605.1" y="1006.8">P</text>
<text class="al" x="619.5" y="1005" textLength="178.4" lengthAdjust="spacing">predicted by the Eq.(12)</text>
<g transform="translate(475.5 813.1) rotate(-90)"><text class="al" x="-0.2" y="0" style="letter-spacing:0.3px">log</text><text class="gm" x="26.6" y="0">γ</text><text class="sb" x="33.6" y="2.4">C</text></g>
</g>
<g>
<line x1="593.5" y1="1040.3" x2="593.5" y2="1309.8" stroke="#b8b8b8" stroke-width="1"/>
<line x1="509.6" y1="1242.5" x2="844.6" y2="1242.5" stroke="#b8b8b8" stroke-width="1"/>
<line x1="677.5" y1="1040.3" x2="677.5" y2="1309.8" stroke="#b8b8b8" stroke-width="1"/>
<line x1="509.6" y1="1175.5" x2="844.6" y2="1175.5" stroke="#b8b8b8" stroke-width="1"/>
<line x1="760.5" y1="1040.3" x2="760.5" y2="1309.8" stroke="#b8b8b8" stroke-width="1"/>
<line x1="509.6" y1="1107.5" x2="844.6" y2="1107.5" stroke="#b8b8b8" stroke-width="1"/>
<line x1="509.6" y1="1309.8" x2="844.6" y2="1040.3" stroke="#111" stroke-width="1.0" stroke-dasharray="4.5 3.8"/>
<line x1="539.75" y1="1286.22" x2="794.35" y2="1084.77" stroke="#000" stroke-width="1.0"/>
<circle cx="539.5" cy="1284.74" r="3.4"/>
<circle cx="542.76" cy="1284.13" r="3.4"/>
<circle cx="549.38" cy="1279.48" r="3.4"/>
<circle cx="551.31" cy="1276.38" r="3.4"/>
<circle cx="558.59" cy="1270.45" r="3.4"/>
<circle cx="568.14" cy="1261.36" r="3.4"/>
<circle cx="568.81" cy="1263.98" r="3.4"/>
<circle cx="589.41" cy="1245.73" r="3.4"/>
<circle cx="592.01" cy="1242.09" r="3.4"/>
<circle cx="596.11" cy="1245.39" r="3.4"/>
<circle cx="596.95" cy="1240.81" r="3.4"/>
<circle cx="603.23" cy="1239.93" r="3.4"/>
<circle cx="604.91" cy="1238.32" r="3.4"/>
<circle cx="611.11" cy="1234" r="3.4"/>
<circle cx="624.17" cy="1222.82" r="3.4"/>
<circle cx="625.51" cy="1219.85" r="3.4"/>
<circle cx="629.28" cy="1217.02" r="3.4"/>
<circle cx="633.72" cy="1214.6" r="3.4"/>
<circle cx="633.38" cy="1207.86" r="3.4"/>
<circle cx="637.32" cy="1211.63" r="3.4"/>
<circle cx="639.83" cy="1205.84" r="3.4"/>
<circle cx="642.26" cy="1210.83" r="3.4"/>
<circle cx="626.85" cy="1220.66" r="3.4"/>
<circle cx="637.74" cy="1209.95" r="3.4"/>
<circle cx="648.54" cy="1199.57" r="3.4"/>
<circle cx="654.32" cy="1200.92" r="3.4"/>
<circle cx="654.99" cy="1197.69" r="3.4"/>
<circle cx="653.9" cy="1195.8" r="3.4"/>
<circle cx="659.26" cy="1194.99" r="3.4"/>
<circle cx="656.16" cy="1194.52" r="3.4"/>
<circle cx="657.08" cy="1191.76" r="3.4"/>
<circle cx="662.44" cy="1188.19" r="3.4"/>
<circle cx="673" cy="1179.09" r="3.4"/>
<circle cx="687.82" cy="1169.73" r="3.4"/>
<circle cx="695.86" cy="1164.88" r="3.4"/>
<circle cx="693.1" cy="1162.79" r="3.4"/>
<circle cx="704.74" cy="1157.47" r="3.4"/>
<circle cx="715.96" cy="1150.05" r="3.4"/>
<circle cx="716.8" cy="1146.89" r="3.4"/>
<circle cx="713.95" cy="1146.55" r="3.4"/>
<circle cx="717.89" cy="1144.12" r="3.4"/>
<circle cx="732.96" cy="1134.83" r="3.4"/>
<circle cx="736.56" cy="1129.5" r="3.4"/>
<circle cx="747.12" cy="1119.33" r="3.4"/>
<circle cx="771.74" cy="1103.83" r="3.4"/>
<circle cx="794.18" cy="1083.29" r="3.4"/>
<path d="M509.6 1309.8v4.6M509.6 1040.3v4.2M509.6 1309.8h-4.6M844.6 1309.8h-4.2M551.48 1309.8v2.6M551.48 1040.3v2.6M509.6 1276.11h-2.6M844.6 1276.11h-2.6M593.35 1309.8v4.6M593.35 1040.3v4.2M509.6 1242.42h-4.6M844.6 1242.42h-4.2M635.23 1309.8v2.6M635.23 1040.3v2.6M509.6 1208.74h-2.6M844.6 1208.74h-2.6M677.1 1309.8v4.6M677.1 1040.3v4.2M509.6 1175.05h-4.6M844.6 1175.05h-4.2M718.98 1309.8v2.6M718.98 1040.3v2.6M509.6 1141.36h-2.6M844.6 1141.36h-2.6M760.85 1309.8v4.6M760.85 1040.3v4.2M509.6 1107.67h-4.6M844.6 1107.67h-4.2M802.73 1309.8v2.6M802.73 1040.3v2.6M509.6 1073.99h-2.6M844.6 1073.99h-2.6M844.6 1309.8v4.6M844.6 1040.3v4.2M509.6 1040.3h-4.6M844.6 1040.3h-4.2" stroke="#1c1c1c" stroke-width="1.1" fill="none"/>
<rect x="509.6" y="1040.3" width="335" height="269.5" fill="none" stroke="#1c1c1c" stroke-width="1.2"/>
<text class="tk" x="509.3" y="1331.3" text-anchor="middle">-7</text>
<text class="tk" x="500" y="1314.9" text-anchor="end">-7</text>
<text class="tk" x="593.05" y="1331.3" text-anchor="middle">-6</text>
<text class="tk" x="500" y="1247.52" text-anchor="end">-6</text>
<text class="tk" x="676.8" y="1331.3" text-anchor="middle">-5</text>
<text class="tk" x="500" y="1180.15" text-anchor="end">-5</text>
<text class="tk" x="760.55" y="1331.3" text-anchor="middle">-4</text>
<text class="tk" x="500" y="1112.77" text-anchor="end">-4</text>
<text class="tk" x="844.3" y="1331.3" text-anchor="middle">-3</text>
<text class="tk" x="500" y="1045.4" text-anchor="end">-3</text>
<rect x="523.2" y="1049.5" width="140" height="73.5" fill="#fff" stroke="#777" stroke-width="1"/>
<line x1="522.7" y1="1123" x2="663.7" y2="1123" stroke="#3a3a3a" stroke-width="1"/>
<line x1="530.8" y1="1062.7" x2="559" y2="1062.7" stroke="#000" stroke-width="1.55"/>
<line x1="530.8" y1="1113.5" x2="559" y2="1113.5" stroke="#111" stroke-width="1.0" stroke-dasharray="4.1 2.3"/>
<text class="lg" x="565" y="1066.5">Regression line</text>
<text class="lg" x="565" y="1085.3"><tspan class="it">R</tspan>=0.9990</text>
<text class="lg" x="565" y="1100.8"><tspan class="it">RE</tspan>=0.9175%</text>
<text class="lg it" x="565" y="1116.4" style="letter-spacing:0">y=x</text>
<text class="pl" x="791.2" y="1281.9">(h)</text>
<text class="al" x="570" y="1351.6" style="letter-spacing:0.45px">log</text>
<text class="gm" x="595.6" y="1351.6">γ</text>
<text class="sb" x="602.7" y="1353.4">P</text>
<text class="al" x="618" y="1351.6" textLength="178.5" lengthAdjust="spacing">predicted by the Eq.(13)</text>
<g transform="translate(475.5 1156.65) rotate(-90)"><text class="al" x="-0.2" y="0" style="letter-spacing:0.3px">log</text><text class="gm" x="26.6" y="0">γ</text><text class="sb" x="33.6" y="2.4">C</text></g>
</g>
</svg>
</body>
</html>
